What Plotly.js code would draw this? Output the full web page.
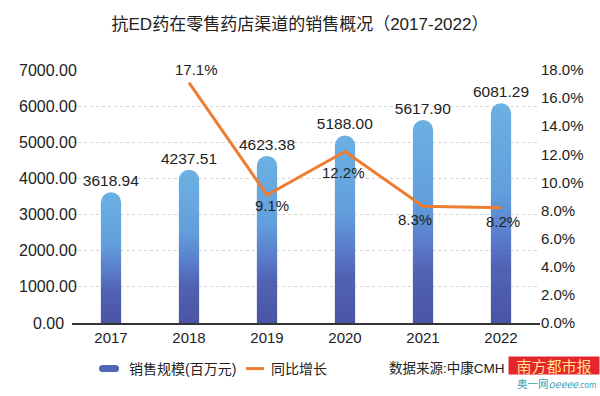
<!DOCTYPE html>
<html>
<head>
<meta charset="utf-8">
<script src="https://cdn.plot.ly/plotly-3.0.1.min.js"></script>
<style>
html,body{margin:0;padding:0;background:#fff;}
#chart{width:600px;height:396px;}
</style>
</head>
<body>
<div id="chart"></div>
<script>
// ---- data ----
const years = ['2017', '2018', '2019', '2020', '2021', '2022'];
const sales = [3618.94, 4237.51, 4623.38, 5188.00, 5617.90, 6081.29];
const growth = [null, 17.1, 9.1, 12.2, 8.3, 8.2];
const leftTicks = [0, 1000, 2000, 3000, 4000, 5000, 6000, 7000];
const rightTicks = [0, 2, 4, 6, 8, 10, 12, 14, 16, 18];
const titleText = '抗ED药在零售药店渠道的销售概况（2017-2022）';
const barName = '销售规模(百万元)';
const lineName = '同比增长';
const sourceText = '数据来源:中康CMH';
const badgeText = '南方都市报';
const siteText = '奥一网<i>oeeee</i><span style="font-size:8px">.com</span>';

// ---- styling / placement (not data) ----
const FONT = 'Liberation Sans, Arial, Noto Sans CJK SC, sans-serif';
const TXT = '#222';
// pixel offsets of the growth labels relative to their points
const labelShift = [[0, 0], [7, 13], [5, -10], [-2, -21], [-8, -13], [2, -14]];

const barTrace = {
  type: 'bar',
  x: years,
  y: sales,
  name: barName,
  width: 0.26,
  marker: {color: '#5b8fd3', cornerradius: 10},
  text: sales.map(v => v.toFixed(2)),
  textposition: 'outside',
  constraintext: 'none',
  cliponaxis: false,
  textfont: {family: FONT, size: 15.5, color: TXT},
  hoverinfo: 'skip'
};

const lineTrace = {
  type: 'scatter',
  mode: 'lines',
  x: years,
  y: growth,
  yaxis: 'y2',
  name: lineName,
  line: {color: '#ED7D31', width: 3},
  cliponaxis: false,
  connectgaps: false,
  hoverinfo: 'skip'
};

const annotations = leftTicks.map(v => ({
  xref: 'paper', yref: 'y', x: (48 - 72) / 468, y: v,
  text: v.toFixed(2), showarrow: false, xanchor: 'center', yanchor: 'middle',
  font: {family: FONT, size: 16, color: TXT}
}));
growth.forEach((v, i) => {
  if (v == null) return;
  annotations.push({
    xref: 'x', yref: 'y2', x: i, y: v,
    text: v.toFixed(1) + '%', showarrow: false, xanchor: 'center', yanchor: 'middle',
    xshift: labelShift[i][0], yshift: labelShift[i][1],
    font: {family: FONT, size: 15, color: TXT}
  });
});
annotations.push({
  xref: 'paper', yref: 'paper', x: (507 - 72) / 468, y: (324 - 369) / 254,
  text: sourceText, showarrow: false, xanchor: 'right', yanchor: 'middle',
  font: {family: FONT, size: 13.5, color: TXT}
});
annotations.push({
  xref: 'paper', yref: 'paper', x: (600 - 72) / 468, y: (324 - 366.5) / 254,
  text: badgeText, showarrow: false, xanchor: 'right', yanchor: 'middle',
  bgcolor: '#e5262d', borderpad: 0, width: 90, height: 17,
  font: {family: 'Noto Sans CJK SC, sans-serif', size: 15, color: '#ffe08a'}
});
annotations.push({
  xref: 'paper', yref: 'paper', x: (598 - 72) / 468, y: (324 - 385) / 254,
  text: siteText, showarrow: false, xanchor: 'right', yanchor: 'middle',
  font: {family: 'Noto Sans CJK SC, sans-serif', size: 10.5, color: '#3aa3b5'}
});

const layout = {
  width: 600, height: 396,
  paper_bgcolor: '#fff', plot_bgcolor: '#fff',
  margin: {l: 72, r: 60, t: 70, b: 72},
  title: {
    text: titleText, x: 0.5, xanchor: 'center', y: 1 - 24 / 396, yanchor: 'middle',
    font: {family: FONT, size: 17, color: TXT}
  },
  showlegend: true,
  legend: {
    orientation: 'h', x: (89 - 72) / 468, xanchor: 'left', y: (324 - 369) / 254, yanchor: 'middle',
    entrywidth: 97, entrywidthmode: 'pixels',
    font: {family: FONT, size: 14, color: TXT}, traceorder: 'normal', bgcolor: 'rgba(0,0,0,0)'
  },
  xaxis: {
    type: 'category', categoryorder: 'array', categoryarray: years, range: [-0.5, years.length - 0.5],
    autorange: false, showgrid: false, showline: true, linecolor: '#333', linewidth: 2,
    ticks: '', tickfont: {family: FONT, size: 15, color: TXT}, zeroline: false, fixedrange: true
  },
  yaxis: {
    range: [0, 7000], autorange: false, tickvals: leftTicks, showticklabels: false, showgrid: true,
    gridcolor: '#d4d4d4', griddash: '3px,3px', gridwidth: 1, zeroline: false, showline: false, fixedrange: true
  },
  yaxis2: {
    overlaying: 'y', side: 'right', range: [0, 18], autorange: false, tickvals: rightTicks,
    ticktext: rightTicks.map(v => v.toFixed(1) + '%'), showgrid: false, zeroline: false, showline: false,
    ticks: '', tickfont: {family: FONT, size: 15, color: TXT}, fixedrange: true
  },
  annotations: annotations,
  bargap: 0.7
};

function applyGradient(gd) {
  const svg = gd.querySelector('.main-svg');
  const defs = svg.querySelector('defs');
  const NS = 'http://www.w3.org/2000/svg';
  const grad = document.createElementNS(NS, 'linearGradient');
  grad.setAttribute('id', 'barGrad');
  grad.setAttribute('x1', '0'); grad.setAttribute('y1', '0');
  grad.setAttribute('x2', '0'); grad.setAttribute('y2', '1');
  [['0', '#6cb1e3'], ['0.4', '#629fdc'], ['0.6', '#5a7ecb'], ['0.75', '#5262b3'], ['1', '#4a55a4']].forEach(s => {
    const st = document.createElementNS(NS, 'stop');
    st.setAttribute('offset', s[0]);
    st.setAttribute('stop-color', s[1]);
    grad.appendChild(st);
  });
  defs.appendChild(grad);
  gd.querySelectorAll('.barlayer .point path').forEach(p => { p.style.fill = 'url(#barGrad)'; });
  const items = gd.querySelectorAll('.legend .traces');
  items.forEach((it, i) => {
    if (i === 0) {
      it.querySelectorAll('.legendpoints path').forEach(p => {
        p.setAttribute('d', 'M-6.5,-3.5h13a3.5,3.5 0 0 1 0,7h-13a3.5,3.5 0 0 1 0,-7z');
        p.style.fill = '#5167b6';
        p.style.stroke = 'none';
      });
    }
  });
  gd.querySelectorAll('.legend .traces .legendlines path').forEach(p => { p.setAttribute('d', 'M15,0h18'); });
}

Plotly.newPlot('chart', [barTrace, lineTrace], layout, {staticPlot: true, displayModeBar: false}).then(applyGradient);
</script>
</body>
</html>
